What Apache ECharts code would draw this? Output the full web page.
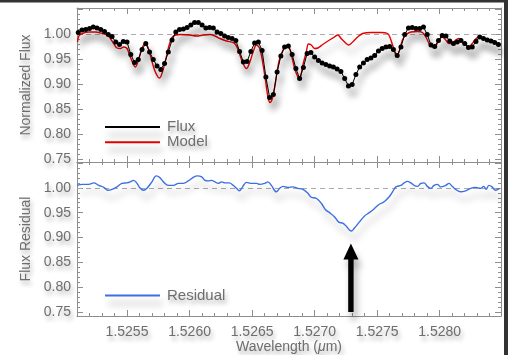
<!DOCTYPE html>
<html>
<head>
<meta charset="utf-8">
<script src="https://cdn.jsdelivr.net/npm/echarts@6/dist/echarts.min.js"></script>
<style>
  html, body { margin: 0; padding: 0; background: #ffffff; }
  #chart { width: 508px; height: 355px; }
</style>
</head>
<body>
<div id="chart"></div>
<script>
// Observed spectrum (dots), synthetic model and their ratio around 1.526 micron.
const fluxWave = [
  1.525110, 1.525140, 1.525170, 1.525200, 1.525230, 1.525260, 1.525290, 1.525320, 1.525350, 1.525380,
  1.525410, 1.525440, 1.525470, 1.525500, 1.525530, 1.525560, 1.525590, 1.525620, 1.525650, 1.525680,
  1.525710, 1.525740, 1.525770, 1.525800, 1.525830, 1.525860, 1.525890, 1.525920, 1.525950, 1.525980,
  1.526010, 1.526040, 1.526070, 1.526100, 1.526130, 1.526160, 1.526190, 1.526220, 1.526250, 1.526280,
  1.526310, 1.526340, 1.526370, 1.526400, 1.526430, 1.526460, 1.526490, 1.526520, 1.526550, 1.526580,
  1.526610, 1.526640, 1.526670, 1.526700, 1.526730, 1.526760, 1.526790, 1.526820, 1.526850, 1.526880,
  1.526910, 1.526940, 1.526970, 1.527000, 1.527030, 1.527060, 1.527090, 1.527120, 1.527150, 1.527180,
  1.527210, 1.527240, 1.527270, 1.527300, 1.527330, 1.527360, 1.527390, 1.527420, 1.527450, 1.527480,
  1.527510, 1.527540, 1.527570, 1.527600, 1.527630, 1.527660, 1.527690, 1.527720, 1.527750, 1.527780,
  1.527810, 1.527840, 1.527870, 1.527900, 1.527930, 1.527960, 1.527990, 1.528020, 1.528050, 1.528080,
  1.528110, 1.528140, 1.528170, 1.528200, 1.528230, 1.528260, 1.528290, 1.528320, 1.528350, 1.528380,
  1.528410, 1.528440, 1.528470
];
const fluxValue = [
  1.004, 1.009, 1.010, 1.012, 1.015, 1.013, 1.010, 1.006, 1.000, 0.996,
  0.985, 0.980, 0.986, 0.985, 0.960, 0.944, 0.950, 0.970, 0.982, 0.965,
  0.950, 0.937, 0.930, 0.942, 0.965, 0.989, 1.005, 1.010, 1.011, 1.014,
  1.019, 1.024, 1.024, 1.019, 1.013, 1.014, 1.013, 1.005, 1.002, 0.997,
  0.994, 0.992, 0.988, 0.966, 0.945, 0.946, 0.966, 0.983, 0.985, 0.968,
  0.915, 0.874, 0.880, 0.925, 0.957, 0.975, 0.977, 0.960, 0.932, 0.912,
  0.934, 0.962, 0.964, 0.955, 0.948, 0.943, 0.940, 0.937, 0.935, 0.931,
  0.926, 0.912, 0.897, 0.900, 0.920, 0.935, 0.943, 0.950, 0.953, 0.958,
  0.967, 0.972, 0.975, 0.976, 0.970, 0.958, 0.975, 1.000, 1.013, 1.014,
  1.012, 1.012, 1.015, 1.000, 0.979, 0.976, 0.988, 0.998, 0.997, 0.987,
  0.982, 0.985, 0.988, 0.982, 0.974, 0.975, 0.986, 0.995, 0.992, 0.989,
  0.987, 0.984, 0.980
];

const modelWave = [
  1.525104, 1.525115, 1.525142, 1.525194, 1.525248, 1.525301, 1.525341, 1.525367, 1.525393, 1.525420,
  1.525447, 1.525473, 1.525500, 1.525526, 1.525553, 1.525566, 1.525592, 1.525614, 1.525632, 1.525646,
  1.525667, 1.525693, 1.525720, 1.525747, 1.525760, 1.525783, 1.525811, 1.525837, 1.525863, 1.525890,
  1.525924, 1.526004, 1.526057, 1.526110, 1.526163, 1.526203, 1.526243, 1.526296, 1.526349, 1.526370,
  1.526389, 1.526416, 1.526442, 1.526455, 1.526482, 1.526508, 1.526535, 1.526561, 1.526588, 1.526609,
  1.526627, 1.526643, 1.526662, 1.526681, 1.526699, 1.526721, 1.526747, 1.526774, 1.526787, 1.526800,
  1.526814, 1.526840, 1.526866, 1.526880, 1.526906, 1.526933, 1.526951, 1.526973, 1.526999, 1.527026,
  1.527065, 1.527119, 1.527158, 1.527185, 1.527212, 1.527252, 1.527270, 1.527304, 1.527344, 1.527384,
  1.527451, 1.527530, 1.527583, 1.527604, 1.527628, 1.527656, 1.527676, 1.527702, 1.527729, 1.527769,
  1.527822, 1.527862, 1.527889, 1.527915, 1.527941, 1.527968, 1.527995, 1.528021, 1.528048, 1.528074,
  1.528100, 1.528127, 1.528154, 1.528180, 1.528207, 1.528233, 1.528260, 1.528287, 1.528313, 1.528353,
  1.528393, 1.528432, 1.528459, 1.528478
];
const modelValue = [
  0.985, 0.997, 1.002, 1.005, 1.005, 1.002, 0.999, 0.992, 0.982, 0.973,
  0.972, 0.975, 0.972, 0.955, 0.939, 0.935, 0.949, 0.969, 0.979, 0.982,
  0.975, 0.952, 0.929, 0.915, 0.913, 0.925, 0.952, 0.979, 0.995, 0.999,
  1.000, 0.999, 0.997, 0.999, 1.000, 0.997, 0.992, 0.987, 0.984, 0.979,
  0.969, 0.949, 0.935, 0.932, 0.945, 0.965, 0.979, 0.972, 0.939, 0.905,
  0.875, 0.864, 0.872, 0.895, 0.925, 0.952, 0.969, 0.977, 0.975, 0.972,
  0.960, 0.932, 0.915, 0.912, 0.939, 0.965, 0.981, 0.979, 0.972, 0.973,
  0.980, 0.989, 0.995, 0.999, 0.992, 0.982, 0.979, 0.985, 0.995, 1.002,
  1.004, 1.004, 1.002, 0.993, 0.975, 0.957, 0.966, 0.989, 0.999, 1.005,
  1.006, 1.004, 0.995, 0.982, 0.975, 0.977, 0.989, 0.995, 0.989, 0.982,
  0.982, 0.989, 0.992, 0.985, 0.979, 0.975, 0.982, 0.991, 0.995, 0.992,
  0.989, 0.987, 0.982, 0.977
];

const residualWave = [
  1.525100, 1.525142, 1.525194, 1.525234, 1.525274, 1.525314, 1.525346, 1.525381, 1.525420, 1.525460,
  1.525500, 1.525526, 1.525553, 1.525580, 1.525606, 1.525632, 1.525659, 1.525699, 1.525733, 1.525760,
  1.525791, 1.525831, 1.525871, 1.525911, 1.525951, 1.525990, 1.526030, 1.526062, 1.526097, 1.526123,
  1.526150, 1.526177, 1.526203, 1.526229, 1.526256, 1.526283, 1.526317, 1.526349, 1.526376, 1.526397,
  1.526424, 1.526455, 1.526495, 1.526535, 1.526561, 1.526601, 1.526627, 1.526654, 1.526694, 1.526721,
  1.526747, 1.526787, 1.526826, 1.526866, 1.526906, 1.526946, 1.526973, 1.527013, 1.527053, 1.527087,
  1.527119, 1.527158, 1.527193, 1.527225, 1.527252, 1.527278, 1.527296, 1.527318, 1.527357, 1.527397,
  1.527437, 1.527477, 1.527517, 1.527556, 1.527596, 1.527623, 1.527650, 1.527690, 1.527716, 1.527742,
  1.527769, 1.527795, 1.527822, 1.527849, 1.527875, 1.527901, 1.527928, 1.527955, 1.527981, 1.528008,
  1.528048, 1.528074, 1.528100, 1.528127, 1.528167, 1.528207, 1.528247, 1.528287, 1.528326, 1.528353,
  1.528371, 1.528393, 1.528419, 1.528446, 1.528478
];
const residualValue = [
  1.005, 1.007, 1.007, 1.010, 1.005, 1.001, 0.995, 0.997, 1.002, 1.009,
  1.010, 1.012, 1.015, 1.009, 0.999, 0.995, 0.999, 1.012, 1.024, 1.021,
  1.012, 1.005, 1.005, 1.009, 1.009, 1.014, 1.021, 1.024, 1.022, 1.015,
  1.014, 1.015, 1.012, 1.009, 1.012, 1.010, 1.010, 1.005, 0.999, 0.994,
  1.002, 1.011, 1.009, 1.009, 1.007, 1.009, 1.012, 1.005, 0.992, 0.999,
  1.003, 1.001, 1.002, 0.999, 0.997, 0.989, 0.981, 0.979, 0.969, 0.956,
  0.950, 0.942, 0.931, 0.929, 0.923, 0.915, 0.913, 0.919, 0.931, 0.943,
  0.950, 0.958, 0.967, 0.972, 0.982, 0.992, 1.002, 1.005, 1.010, 1.013,
  1.010, 1.005, 1.003, 1.009, 1.010, 1.003, 0.999, 1.005, 1.007, 1.002,
  1.005, 1.009, 1.003, 0.997, 0.992, 0.994, 0.999, 1.001, 0.999, 1.003,
  0.997, 1.005, 1.002, 0.995, 0.999
];

// Arrow marking the residual absorption feature.
const arrowWave = [1.52729];
const arrowBase = [0.750];
const arrowTip = [0.888];

// Axis extents (wavelength in micron, normalized flux).
const X_MIN = 1.5251, X_MAX = 1.52849;
const TOP_Y = [0.745, 1.053];
const BOTTOM_Y = [0.742, 1.052];

const AXIS_COLOR = '#8e8e8e';
const TEXT_COLOR = '#6e6e6e';
const FONT = 'Liberation Sans';
const textShadow = {
  textShadowColor: 'rgba(0,0,0,0.3)', textShadowBlur: 4,
  textShadowOffsetX: 2, textShadowOffsetY: 4
};
const lineShadow = {
  shadowColor: 'rgba(0,0,0,0.32)', shadowBlur: 7,
  shadowOffsetX: 3, shadowOffsetY: 8
};

const zip = (xs, ys) => xs.map((x, i) => [x, ys[i]]);

function xAxesFor(g, withLabels) {
  const base = {
    type: 'value', gridIndex: g, min: X_MIN, max: X_MAX,
    splitLine: { show: false }, axisLabel: { show: false }
  };
  const major = Object.assign({}, base, {
    splitNumber: 7,
    axisLine: { show: true, onZero: false, lineStyle: { color: AXIS_COLOR, width: 1 } },
    axisTick: { inside: true, length: 6, lineStyle: { color: AXIS_COLOR } }
  });
  const minor = Object.assign({}, base, {
    splitNumber: 34,
    axisLine: { show: false, onZero: false },
    axisTick: { inside: true, length: 3, lineStyle: { color: AXIS_COLOR } }
  });
  const bottom = Object.assign({}, major, { position: 'bottom' });
  if (withLabels) {
    bottom.axisLabel = Object.assign({
      show: true, margin: 9, color: TEXT_COLOR, fontSize: 14, fontFamily: FONT,
      formatter: v => (v > X_MIN + 0.00005 && v < X_MAX - 0.00005) ? v.toFixed(4) : ''
    }, textShadow);
    bottom.name = '{n|Wavelength (}{m|\u03bc}{n|m)}';
    bottom.nameLocation = 'middle';
    bottom.nameGap = 24;
    bottom.nameTextStyle = Object.assign({
      color: TEXT_COLOR, fontSize: 14, fontFamily: FONT,
      rich: {
        n: Object.assign({ color: TEXT_COLOR, fontSize: 14, fontFamily: FONT }, textShadow),
        m: Object.assign({ color: TEXT_COLOR, fontSize: 14, fontFamily: FONT, fontStyle: 'italic' }, textShadow)
      }
    }, textShadow);
  }
  return [
    bottom,
    Object.assign({}, minor, { position: 'bottom' }),
    Object.assign({}, major, { position: 'top' }),
    Object.assign({}, minor, { position: 'top' })
  ];
}

function yAxesFor(g, range, title) {
  const base = {
    type: 'value', gridIndex: g, min: range[0], max: range[1],
    splitLine: { show: false }, axisLabel: { show: false }
  };
  const major = Object.assign({}, base, {
    splitNumber: 6,
    axisLine: { show: true, onZero: false, lineStyle: { color: AXIS_COLOR, width: 1 } },
    axisTick: { inside: true, length: 6, lineStyle: { color: AXIS_COLOR } }
  });
  const minor = Object.assign({}, base, {
    splitNumber: 30,
    axisLine: { show: false, onZero: false },
    axisTick: { inside: true, length: 3, lineStyle: { color: AXIS_COLOR } }
  });
  const left = Object.assign({}, major, {
    position: 'left',
    axisLabel: Object.assign({
      show: true, margin: 6, color: TEXT_COLOR, fontSize: 14, fontFamily: FONT,
      formatter: v => (v > 0.749 && v < 1.001) ? v.toFixed(2) : ''
    }, textShadow),
    name: title, nameLocation: 'middle', nameGap: 42, nameRotate: 90,
    nameTextStyle: Object.assign({ color: TEXT_COLOR, fontSize: 14, fontFamily: FONT }, textShadow)
  });
  return [
    left,
    Object.assign({}, minor, { position: 'left' }),
    Object.assign({}, major, { position: 'right' }),
    Object.assign({}, minor, { position: 'right' })
  ];
}

const unityLine = {
  silent: true, symbol: 'none', z: 1, animation: false,
  label: { show: false },
  lineStyle: { type: [5, 4], color: '#ababab', width: 1 },
  data: [{ yAxis: 1.0 }]
};

const chart = echarts.init(document.getElementById('chart'), null, { renderer: 'canvas' });

chart.setOption({
  backgroundColor: '#ffffff',
  animation: false,
  grid: [
    { left: 77, top: 8, width: 424, height: 154 },
    { left: 77, top: 162, width: 424, height: 154 }
  ],
  xAxis: [].concat(xAxesFor(0, false), xAxesFor(1, true)),
  yAxis: [].concat(yAxesFor(0, TOP_Y, 'Normalized Flux'), yAxesFor(1, BOTTOM_Y, 'Flux Residual')),
  legend: [
    {
      data: [{ name: 'Flux', icon: 'rect' }, { name: 'Model', icon: 'rect' }],
      orient: 'vertical', left: 100, top: 114.5,
      itemWidth: 55, itemHeight: 2, itemGap: 0.3, selectedMode: false,
      itemStyle: lineShadow,
      textStyle: Object.assign({
        color: TEXT_COLOR, fontSize: 15, fontFamily: FONT, lineHeight: 14,
        padding: [0, 0, 0, 2]
      }, textShadow)
    },
    {
      data: [{ name: 'Residual', icon: 'rect' }],
      orient: 'vertical', left: 100, top: 283,
      itemWidth: 55, itemHeight: 2, selectedMode: false,
      itemStyle: lineShadow,
      textStyle: Object.assign({
        color: TEXT_COLOR, fontSize: 15, fontFamily: FONT, lineHeight: 14,
        padding: [0, 0, 0, 2]
      }, textShadow)
    }
  ],
  graphic: [
    { type: 'rect', left: 0, top: 0, shape: { width: 508, height: 2.5 }, style: { fill: '#333333' }, silent: true },
    { type: 'rect', left: 504, top: 0, shape: { width: 4, height: 355 }, style: { fill: '#333333' }, silent: true }
  ],
  series: [
    {
      name: 'Model', type: 'line', xAxisIndex: 0, yAxisIndex: 0,
      data: zip(modelWave, modelValue), smooth: 0.35, showSymbol: false,
      lineStyle: Object.assign({ color: '#e50000', width: 1.4 }, lineShadow),
      itemStyle: { color: '#e50000' },
      markLine: unityLine, z: 2
    },
    {
      name: 'Flux', type: 'line', xAxisIndex: 0, yAxisIndex: 0,
      data: zip(fluxWave, fluxValue), symbol: 'circle', symbolSize: 5, showSymbol: true,
      lineStyle: Object.assign({ color: '#000000', width: 1 }, lineShadow),
      itemStyle: Object.assign({ color: '#000000' }, lineShadow), z: 3
    },
    {
      name: 'Residual', type: 'line', xAxisIndex: 4, yAxisIndex: 4,
      data: zip(residualWave, residualValue), smooth: 0.35, showSymbol: false,
      lineStyle: Object.assign({ color: '#3b6fe3', width: 1.4 }, lineShadow),
      itemStyle: { color: '#3b6fe3' },
      markLine: unityLine, z: 2
    },
    {
      name: 'feature', type: 'custom', xAxisIndex: 4, yAxisIndex: 4,
      encode: { x: 0, y: [1, 2] },
      data: arrowWave.map((w, i) => [w, arrowBase[i], arrowTip[i]]),
      renderItem: function (params, api) {
        const p0 = api.coord([api.value(0), api.value(1)]);
        const p1 = api.coord([api.value(0), api.value(2)]);
        const cx = p0[0], shaft = 2.7, head = 7.5, headLen = 16;
        const neck = p1[1] + headLen;
        return {
          type: 'polygon',
          shape: { points: [
            [cx - shaft, p0[1]], [cx - shaft, neck], [cx - head, neck], [cx, p1[1]],
            [cx + head, neck], [cx + shaft, neck], [cx + shaft, p0[1]]
          ] },
          style: Object.assign({ fill: '#000000' }, lineShadow)
        };
      },
      z: 4
    }
  ]
});
</script>
</body>
</html>
